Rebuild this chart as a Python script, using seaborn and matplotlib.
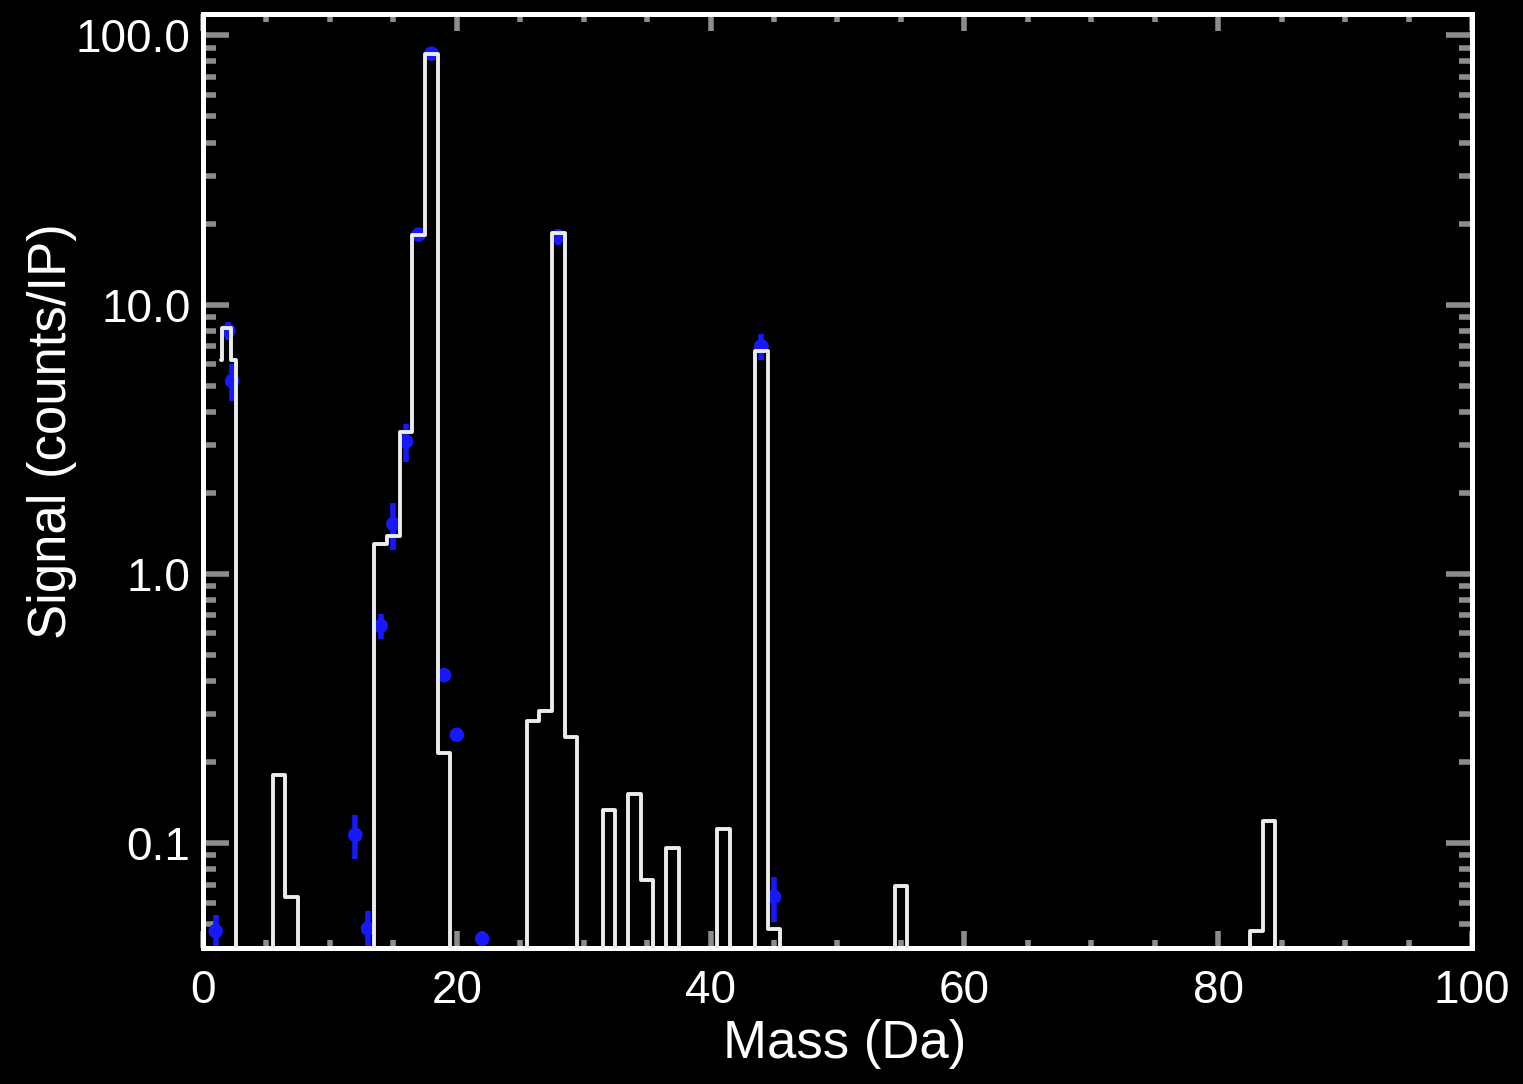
import numpy as np
import seaborn as sns
import matplotlib.pyplot as plt
from matplotlib.ticker import FixedLocator, MultipleLocator, NullFormatter

# step spectrum: bin edges (Da) and the level from each edge to the next
FLOOR = 1e-3
edges = [1.45, 1.5, 2.2, 2.6,
         5.5, 6.5, 7.5,
         13.5, 14.5, 15.5, 16.5, 17.5, 18.5, 19.5,
         25.5, 26.5, 27.5, 28.5, 29.5,
         31.5, 32.5,
         33.5, 34.5, 35.5,
         36.5, 37.5,
         40.5, 41.5,
         43.5, 44.5, 45.5,
         54.5, 55.5,
         82.5, 83.5, 84.5]
levels = [6.2, 8.2, 6.2, FLOOR,
          0.178, 0.063, FLOOR,
          1.29, 1.38, 3.35, 18.2, 85.0, 0.216, FLOOR,
          0.284, 0.31, 18.5, 0.248, FLOOR,
          0.133, FLOOR,
          0.152, 0.073, FLOOR,
          0.096, FLOOR,
          0.113, FLOOR,
          6.7, 0.048, FLOOR,
          0.069, FLOOR,
          0.047, 0.121, FLOOR]

# measured points with error bars
pt_mass = [1.0, 2.0, 2.3, 12.0, 13.0, 14.0, 15.0, 16.0, 17.0, 18.0, 19.0, 20.0, 22.0, 28.0, 44.0, 45.0]
pt_signal = [0.047, 8.0, 5.2, 0.107, 0.048, 0.64, 1.53, 3.1, 18.2, 85.5, 0.42, 0.252, 0.044, 17.9, 7.0, 0.063]
pt_err = [0.007, 0.6, 0.8, 0.02, 0.008, 0.07, 0.3, 0.5, 1.0, 3.0, 0.02, 0.01, 0.003, 1.2, 0.8, 0.012]

y_ticks = [0.1, 1.0, 10.0, 100.0]
y_ticklabels = ["0.1", "1.0", "10.0", "100.0"]
x_ticks = [0, 20, 40, 60, 80, 100]

sns.set_style("dark")
plt.rcParams['font.family'] = ['Liberation Sans', 'DejaVu Sans']

fig = plt.figure(figsize=(15.23, 10.84), dpi=100, facecolor="black")
ax = fig.add_axes([0.1333, 0.1255, 0.8332, 0.8615])
ax.set_facecolor("black")

blue = "#1818ff"
ax.errorbar(pt_mass, pt_signal, yerr=pt_err, fmt="none", ecolor=blue, elinewidth=4, capsize=0, zorder=2)
sns.scatterplot(x=pt_mass, y=pt_signal, color=blue, s=110, edgecolor="none", ax=ax, zorder=3)

sns.lineplot(x=edges, y=levels, drawstyle="steps-post", sort=False, estimator=None,
             color="#ececec", linewidth=2.8, ax=ax, zorder=4)

ax.set_yscale("log")
ax.set_xlim(0, 100)
ax.set_ylim(0.0407, 120)

ax.yaxis.set_major_locator(FixedLocator(y_ticks))
ax.set_yticklabels(y_ticklabels)
ax.yaxis.set_minor_locator(FixedLocator(
    [m * 10.0 ** e for e in range(-2, 3) for m in range(2, 10)]))
ax.yaxis.set_minor_formatter(NullFormatter())
ax.xaxis.set_major_locator(FixedLocator(x_ticks))
ax.xaxis.set_minor_locator(MultipleLocator(5))

ax.tick_params(axis="both", which="both", direction="in", colors="#8c8c8c",
               top=True, right=True, left=True, bottom=True, width=4)
ax.tick_params(axis="y", which="major", length=19, labelsize=33, labelcolor="white", pad=9)
ax.tick_params(axis="y", which="minor", length=9.5)
ax.tick_params(axis="x", which="major", length=12, labelsize=33, labelcolor="white", pad=15)
ax.tick_params(axis="x", which="minor", length=6)

for sp in ax.spines.values():
    sp.set_color("white")
    sp.set_linewidth(3.6)
    sp.set_visible(True)
ax.grid(False)

ax.set_xlabel("Mass (Da)", color="white", fontsize=38)
ax.set_ylabel("Signal (counts/IP)", color="white", fontsize=38)
ax.xaxis.set_label_coords(0.506, -0.076)
ax.yaxis.set_label_coords(-0.099, 0.553)

fig.savefig("out.png", dpi=100, facecolor="black")
